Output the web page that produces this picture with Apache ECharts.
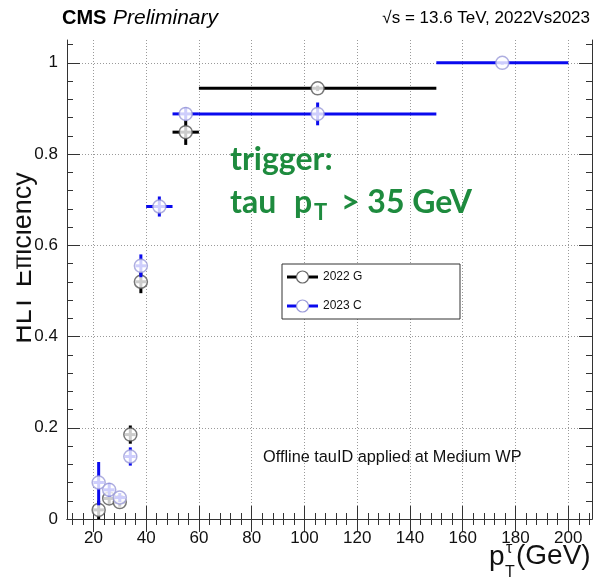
<!DOCTYPE html>
<html>
<head>
<meta charset="utf-8">
<script src="https://cdn.jsdelivr.net/npm/echarts@6/dist/echarts.min.js"></script>
<style>
  html, body { margin: 0; padding: 0; background: #fff; }
  #chart { width: 596px; height: 578px; }
</style>
</head>
<body>
<div id="chart"></div>
<script>
// Tau HLT efficiency vs offline tau pT, 2022 G vs 2023 C
const xTickValues = [20, 40, 60, 80, 100, 120, 140, 160, 180, 200];
const yTickValues = [0, 0.2, 0.4, 0.6, 0.8, 1];

// 2022 G
const pt2022 = [22, 26, 30, 34, 38, 55, 105];
const ptLow2022 = [20, 24, 28, 32, 36, 50, 60];
const ptHigh2022 = [24, 28, 32, 36, 40, 60, 150];
const eff2022 = [0.02, 0.045, 0.037, 0.185, 0.52, 0.848, 0.944];
const errDown2022 = [0.02, 0.012, 0.01, 0.02, 0.025, 0.028, 0.006];
const errUp2022 = [0.02, 0.012, 0.01, 0.02, 0.02, 0.028, 0.006];

// 2023 C
const pt2023 = [22, 26, 30, 34, 38, 45, 55, 105, 175];
const ptLow2023 = [20, 24, 28, 32, 36, 40, 50, 60, 150];
const ptHigh2023 = [24, 28, 32, 36, 40, 50, 60, 150, 200];
const eff2023 = [0.08, 0.064, 0.047, 0.137, 0.555, 0.685, 0.888, 0.888, 1.0];
const errDown2023 = [0.05, 0.015, 0.01, 0.02, 0.025, 0.022, 0.014, 0.025, 0.004];
const errUp2023 = [0.045, 0.015, 0.01, 0.02, 0.025, 0.022, 0.014, 0.025, 0];

const X_MIN = 10, X_MAX = 209, Y_MIN = 0, Y_MAX = 1.05;
const FONT = "'Liberation Sans', Arial, Helvetica, sans-serif";
const NOTE_FONT = "Lato, 'Liberation Sans', Arial, sans-serif";
const FRAME = '#333';
const GREEN = '#1e8b3e';

function range(a, b, step) {
  const out = [];
  for (let v = a; v <= b + 1e-9; v += step) out.push(+v.toFixed(4));
  return out;
}
const xMinor = range(12, 208, 4);
const yMinor = range(0, 1.04, 0.04);

function rows(pt, lo, hi, eff, dn, up) {
  return pt.map((x, i) => [x, eff[i], lo[i], hi[i], eff[i] - dn[i], eff[i] + up[i]]);
}
const rows2022 = rows(pt2022, ptLow2022, ptHigh2022, eff2022, errDown2022, errUp2022);
const rows2023 = rows(pt2023, ptLow2023, ptHigh2023, eff2023, errDown2023, errUp2023);

function errorBars(color) {
  return function (params, api) {
    const x = api.value(0), y = api.value(1);
    const pL = api.coord([api.value(2), y]);
    const pR = api.coord([api.value(3), y]);
    const pD = api.coord([x, api.value(4)]);
    const pU = api.coord([x, api.value(5)]);
    const style = { stroke: color, lineWidth: 3 };
    return {
      type: 'group',
      children: [
        { type: 'line', shape: { x1: pL[0], y1: pL[1], x2: pR[0], y2: pR[1] }, style },
        { type: 'line', shape: { x1: pD[0], y1: pD[1], x2: pU[0], y2: pU[1] }, style }
      ]
    };
  };
}

function xAxisDef(pos, ticks, len, labels, grid) {
  return {
    type: 'value', position: pos, min: X_MIN, max: X_MAX, offset: 0,
    axisLine: { show: labels, lineStyle: { color: FRAME, width: 1 } },
    axisTick: { show: true, inside: true, length: len, customValues: ticks, lineStyle: { color: FRAME, width: 1 } },
    axisLabel: labels ? {
      show: true, customValues: xTickValues, color: '#111', fontFamily: FONT, fontSize: 17, margin: 11
    } : { show: false },
    splitLine: grid ? { show: true, lineStyle: { color: '#9a9a9a', type: [1, 2], width: 1 } } : { show: false }
  };
}
function yAxisDef(pos, ticks, len, labels, grid) {
  return {
    type: 'value', position: pos, min: Y_MIN, max: Y_MAX, offset: 0,
    axisLine: { show: labels, lineStyle: { color: FRAME, width: 1 } },
    axisTick: { show: true, inside: true, length: len, customValues: ticks, lineStyle: { color: FRAME, width: 1 } },
    axisLabel: labels ? {
      show: true, customValues: yTickValues, color: '#111', fontFamily: FONT, fontSize: 17, margin: 9,
      formatter: v => (v === 0 || v === 1) ? String(v) : v.toFixed(1)
    } : { show: false },
    splitLine: grid ? { show: true, lineStyle: { color: '#9a9a9a', type: [1, 2], width: 1 } } : { show: false }
  };
}

const chart = echarts.init(document.getElementById('chart'), null, { renderer: 'canvas' });

const legendTop = 264, legendLeft = 282;
chart.setOption({
  animation: false,
  backgroundColor: '#fff',
  grid: { left: 67, right: 4, top: 40, bottom: 59, containLabel: false },
  xAxis: [
    xAxisDef('bottom', xTickValues, 13, true, true),
    xAxisDef('bottom', xMinor, 6, false, false),
    Object.assign(xAxisDef('top', xTickValues, 13, false, false), { axisLine: { show: true, lineStyle: { color: FRAME } } }),
    xAxisDef('top', xMinor, 6, false, false)
  ],
  yAxis: [
    yAxisDef('left', yTickValues, 13, true, true),
    yAxisDef('left', yMinor, 6, false, false),
    Object.assign(yAxisDef('right', yTickValues, 13, false, false), { axisLine: { show: true, lineStyle: { color: FRAME } } }),
    yAxisDef('right', yMinor, 6, false, false)
  ],
  series: [
    { name: '2022 G bars', type: 'custom', xAxisIndex: 0, yAxisIndex: 0, renderItem: errorBars('#000'),
      data: rows2022, encode: { x: 0, y: 1 }, clip: true, z: 2 },
    { name: '2022 G', type: 'scatter', xAxisIndex: 0, yAxisIndex: 0, symbol: 'circle', symbolSize: 13,
      itemStyle: { color: '#fff', borderColor: '#555', borderWidth: 1.5 },
      data: rows2022.map(r => [r[0], r[1]]), z: 3 },
    { name: '2023 C bars', type: 'custom', xAxisIndex: 0, yAxisIndex: 0, renderItem: errorBars('#0a0aee'),
      data: rows2023, encode: { x: 0, y: 1 }, clip: true, z: 4 },
    { name: '2023 C', type: 'scatter', xAxisIndex: 0, yAxisIndex: 0, symbol: 'circle', symbolSize: 13,
      itemStyle: { color: '#fff', borderColor: '#9a9ad8', borderWidth: 1.5 },
      data: rows2023.map(r => [r[0], r[1]]), z: 5 }
  ],
  graphic: [
    // header
    { type: 'text', x: 62, y: 18, style: { text: 'CMS', font: `bold 20px ${FONT}`, fill: '#000', verticalAlign: 'middle' } },
    { type: 'text', x: 113, y: 18, style: { text: 'Preliminary', font: `italic 21px ${FONT}`, fill: '#000', verticalAlign: 'middle' } },
    { type: 'text', x: 590, y: 18, style: { text: '\u221As = 13.6 TeV, 2022Vs2023', font: `17px ${FONT}`, fill: '#000', align: 'right', verticalAlign: 'middle' } },

    // y axis title, partly hidden by a white strip along the page edge
    { type: 'text', x: 23.6, y: 258, rotation: Math.PI / 2, z: 10,
      style: { text: 'HLT Efficiency', font: `27px ${FONT}`, fill: '#111', align: 'center', verticalAlign: 'middle' } },
    { type: 'rect', shape: { x: 0, y: 140, width: 16.5, height: 240 }, style: { fill: '#fff' }, z: 11 },

    // x axis title
    { type: 'text', x: 489, y: 557.5, style: { text: 'p', font: `28px ${FONT}`, fill: '#111', verticalAlign: 'middle' } },
    { type: 'text', x: 506, y: 549, style: { text: '\u03C4', font: `16px ${FONT}`, fill: '#111', verticalAlign: 'middle' } },
    { type: 'text', x: 505, y: 573, style: { text: 'T', font: `16px ${FONT}`, fill: '#111', verticalAlign: 'middle' } },
    { type: 'text', x: 516, y: 556.5, style: { text: '(GeV)', font: `28px ${FONT}`, fill: '#111', verticalAlign: 'middle' } },

    // legend
    { type: 'rect', shape: { x: legendLeft, y: legendTop, width: 178, height: 55 },
      style: { fill: '#fff', stroke: '#333', lineWidth: 1 }, z: 20 },
    { type: 'line', shape: { x1: 287, y1: 277, x2: 318, y2: 277 }, style: { stroke: '#000', lineWidth: 3 }, z: 21 },
    { type: 'circle', shape: { cx: 302.5, cy: 277, r: 6 }, style: { fill: '#fff', stroke: '#666', lineWidth: 1.2 }, z: 22 },
    { type: 'text', x: 323, y: 277, style: { text: '2022 G', font: `12px ${FONT}`, fill: '#111', verticalAlign: 'middle' }, z: 22 },
    { type: 'line', shape: { x1: 287, y1: 306, x2: 318, y2: 306 }, style: { stroke: '#0a0aee', lineWidth: 3 }, z: 21 },
    { type: 'circle', shape: { cx: 302.5, cy: 306, r: 6 }, style: { fill: '#fff', stroke: '#9a9ad8', lineWidth: 1.2 }, z: 22 },
    { type: 'text', x: 323, y: 306, style: { text: '2023 C', font: `12px ${FONT}`, fill: '#111', verticalAlign: 'middle' }, z: 22 },

    // annotation
    { type: 'text', x: 263, y: 458, style: { text: 'Offline tauID applied at Medium WP', font: `16.3px ${FONT}`, fill: '#111', verticalAlign: 'middle' } },

    // trigger note
    { type: 'text', x: 230, y: 159.6, z: 30, style: { text: 'trigger:', font: `bold 32px ${NOTE_FONT}`, fill: GREEN, verticalAlign: 'middle' } },
    { type: 'text', x: 230, y: 202.6, z: 30, style: { text: 'tau', font: `bold 32px ${NOTE_FONT}`, fill: GREEN, verticalAlign: 'middle' } },
    { type: 'text', x: 294, y: 202.6, z: 30, style: { text: 'p', font: `bold 32px ${NOTE_FONT}`, fill: GREEN, verticalAlign: 'middle' } },
    { type: 'text', x: 314, y: 212.5, z: 30, style: { text: 'T', font: `bold 22px ${NOTE_FONT}`, fill: GREEN, verticalAlign: 'middle' } },
    { type: 'text', x: 341, y: 202.6, z: 30, style: { text: '> 35 GeV', font: `bold 32px ${NOTE_FONT}`, fill: GREEN, verticalAlign: 'middle' } }
  ]
});
</script>
</body>
</html>
